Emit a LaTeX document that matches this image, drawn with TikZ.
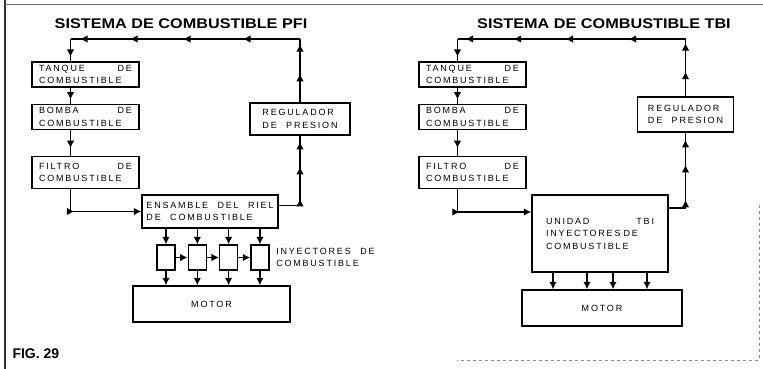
\documentclass[tikz,border=0pt]{standalone}
\usepackage{fontspec}
\usepackage{graphicx}
\usepackage{tikz}
\usetikzlibrary{arrows.meta, positioning, decorations.markings}
\newfontfamily\diagfont[LetterSpace=20, WordSpace=2.2]{Liberation Sans}
\newfontfamily\headfont{Liberation Sans}
\newcommand{\widehead}[1]{\scalebox{1.16}[1]{#1}}
\tikzset{
  fblk/.style={
    rectangle, draw=black, line width=1.4pt,
    text width=#1, align=left,
    inner xsep=7pt, inner ysep=3pt,
    font=\diagfont\fontsize{9}{12.5}\selectfont
  },
  dblk/.style={
    rectangle, draw=black, line width=1.4pt,
    align=#1, inner sep=3pt,
    font=\diagfont\fontsize{9}{12.5}\selectfont
  },
  farr/.style={line width=1.3pt, -{Latex[length=7.5pt,width=7.5pt]}},
  fline/.style={line width=1.3pt},
  ahead/.style={postaction={decorate, decoration={markings,
      mark=at position #1 with {\arrow{Latex[length=7.5pt,width=7.5pt]}}}}}
}

\begin{document}
\begin{tikzpicture}[
    x=1pt, y=-1pt,
    inj/.style={rectangle, draw=black, line width=1.3pt,
                minimum width=18pt, minimum height=25pt, inner sep=0pt},
    ttl/.style={font=\headfont\bfseries\fontsize{14}{18}\selectfont}
  ]
  \useasboundingbox (0,0) rectangle (763,369);

  % marco
  \draw[black!80, line width=1.4pt] (5,0) -- (5,369);
  \draw[black!55, line width=0.9pt] (5,4) -- (763,4);
  \draw[black!45, line width=0.7pt, dashed] (759,205) -- (759,360) -- (457,360);

  \coordinate (lvl) at (0,39);

  % sistema PFI
  \node[ttl] (tit1) at (181,24) {\widehead{SISTEMA DE COMBUSTIBLE PFI}};
  \node[fblk=93pt, minimum height=24pt] (tanq1) at (85.5,74.5) {TANQUE\hfill DE\\COMBUSTIBLE};
  \node[fblk=93pt, minimum height=24pt, below=16pt of tanq1] (bomb1) {BOMBA\hfill DE\\COMBUSTIBLE};
  \node[fblk=93pt, minimum height=32pt, below=26pt of bomb1] (filt1) {FILTRO\hfill DE\\COMBUSTIBLE};
  \node[dblk=left, minimum width=100pt, minimum height=32pt] (reg1) at (300,119) {REGULADOR\\DE PRESION};
  \node[dblk=left, minimum width=136pt, minimum height=33pt] (ens1) at (210,211.5) {ENSAMBLE DEL RIEL\\DE COMBUSTIBLE};
  \node[inj] (inj1) at (166,257.5) {};
  \node[inj, right=12pt of inj1] (inj2) {};
  \node[inj, right=12pt of inj2] (inj3) {};
  \node[inj, right=12pt of inj3] (inj4) {};
  \node[dblk=left, draw=none, right=3pt of inj4] (injlbl) {INYECTORES DE\\COMBUSTIBLE};
  \node[dblk=center, minimum width=157pt, minimum height=36pt] (mot1) at (211.5,304) {MOTOR};

  \coordinate (col1) at ([xshift=-15pt]tanq1.north);
  \coordinate (ret1) at (reg1.north |- lvl);
  \coordinate (ent1) at (col1 |- lvl);

  \draw[fline, ahead=0.45, ahead=0.92] (reg1.north) -- (ret1);
  \draw[fline, ahead=57pt, ahead=117pt, ahead=170pt, ahead=220pt] (ret1) -- (ent1);
  \draw[fline, ahead=0.8] (ent1) -- (col1);
  \draw[fline, ahead=0.75] (tanq1.south -| col1) -- (bomb1.north -| col1);
  \draw[fline, ahead=0.7] (bomb1.south -| col1) -- (filt1.north -| col1);
  \draw[farr, ahead=26pt] (filt1.south -| col1) |- (ens1.west);
  \draw[fline, ahead=28pt, ahead=60pt, ahead=85pt] ([yshift=6pt]ens1.east) -| (reg1.south);

  \draw[farr] (ens1.south -| inj1.north) -- (inj1.north);
  \draw[farr] (ens1.south -| inj2.north) -- (inj2.north);
  \draw[farr] (ens1.south -| inj3.north) -- (inj3.north);
  \draw[farr] (ens1.south -| inj4.north) -- (inj4.north);
  \draw[farr] (inj1) -- (inj2);
  \draw[farr] (inj2) -- (inj3);
  \draw[farr] (inj3) -- (inj4);
  \draw[farr] (inj1.south) -- (inj1.south |- mot1.north);
  \draw[farr] (inj2.south) -- (inj2.south |- mot1.north);
  \draw[farr] (inj3.south) -- (inj3.south |- mot1.north);
  \draw[farr] (inj4.south) -- (inj4.south |- mot1.north);

  % sistema TBI
  \node[ttl] (tit2) at (604,24) {\widehead{SISTEMA DE COMBUSTIBLE TBI}};
  \node[fblk=93pt, minimum height=24pt] (tanq2) at (472.5,74.5) {TANQUE\hfill DE\\COMBUSTIBLE};
  \node[fblk=93pt, minimum height=24pt, below=16pt of tanq2] (bomb2) {BOMBA\hfill DE\\COMBUSTIBLE};
  \node[fblk=93pt, minimum height=32pt, below=26pt of bomb2] (filt2) {FILTRO\hfill DE\\COMBUSTIBLE};
  \node[dblk=left, minimum width=96pt, minimum height=35pt] (reg2) at (685.5,114.5) {REGULADOR\\DE PRESION};
  \node[fblk=108pt, inner xsep=14pt, minimum height=77pt] (uni) at (600,233.5) {UNIDAD\hfill TBI\\INYECTORES DE\\COMBUSTIBLE};
  \node[dblk=center, minimum width=160pt, minimum height=36pt] (mot2) at (602,308) {MOTOR};

  \coordinate (col2) at ([xshift=-15pt]tanq2.north);
  \coordinate (ret2) at (reg2.north |- lvl);
  \coordinate (ent2) at (col2 |- lvl);

  \draw[fline, ahead=0.43, ahead=0.93] (reg2.north) -- (ret2);
  \draw[fline, ahead=57pt, ahead=120pt, ahead=172pt, ahead=220pt] (ret2) -- (ent2);
  \draw[fline, ahead=0.8] (ent2) -- (col2);
  \draw[fline, ahead=0.75] (tanq2.south -| col2) -- (bomb2.north -| col2);
  \draw[fline, ahead=0.7] (bomb2.south -| col2) -- (filt2.north -| col2);
  \draw[farr, ahead=25pt] (filt2.south -| col2) |- ([yshift=21.5pt]uni.west);
  \draw[fline, ahead=25pt, ahead=60pt, ahead=85pt] ([yshift=25.5pt]uni.east) -| (reg2.south);

  \draw[farr] ([xshift=-47pt]uni.south) -- ([xshift=-49pt]mot2.north);
  \draw[farr] ([xshift=-13pt]uni.south) -- ([xshift=-15pt]mot2.north);
  \draw[farr] ([xshift=13pt]uni.south) -- ([xshift=11pt]mot2.north);
  \draw[farr] ([xshift=47pt]uni.south) -- ([xshift=45pt]mot2.north);

  \node[font=\headfont\bfseries\fontsize{14}{16}\selectfont, anchor=west] (fig) at (9,354) {FIG. 29};
\end{tikzpicture}
\end{document}
